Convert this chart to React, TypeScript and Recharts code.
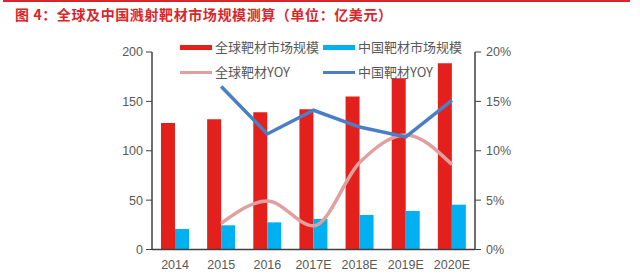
import React from 'react';
import { ComposedChart, Bar, Line, XAxis, YAxis } from 'recharts';

const categories = ['2014', '2015', '2016', '2017E', '2018E', '2019E', '2020E'];
const globalMarket = [128, 132, 139, 142, 155, 173.5, 188.5];
const chinaMarket = [20.8, 24.5, 27.5, 31, 35, 39, 45.4];
const globalYoy: (number | null)[] = [null, 2.65, 4.9, 2.4, 8.8, 11.6, 8.6];
const chinaYoy: (number | null)[] = [null, 16.5, 11.7, 14.1, 12.4, 11.4, 15.1];
const leftTicks = [0, 50, 100, 150, 200];
const rightTicks = [0, 5, 10, 15, 20];

const seriesNames = ['全球靶材市场规模', '中国靶材市场规模', '全球靶材YOY', '中国靶材YOY'];
const title = '图 4：全球及中国溅射靶材市场规模测算（单位：亿美元）';

const RED = '#e3201c';
const CYAN = '#00b0f0';
const PINK = '#e0a0a0';
const BLUE = '#4a7ec6';
const AXIS = '#404040';
const TICK = '#595959';
const FONT = '"Liberation Sans", Arial, "Noto Sans CJK SC", sans-serif';

const data = categories.map((c, i) => ({
  name: c,
  g: globalMarket[i],
  c: chinaMarket[i],
  gy: globalYoy[i],
  cy: chinaYoy[i],
}));

const legendItems = [
  { label: seriesNames[0], color: RED, kind: 'bar', x: 180, y: 47 },
  { label: seriesNames[1], color: CYAN, kind: 'bar', x: 323, y: 47 },
  { label: seriesNames[2], color: PINK, kind: 'line', x: 180, y: 72 },
  { label: seriesNames[3], color: BLUE, kind: 'line', x: 323, y: 72 },
];

export default function App() {
  return (
    <div style={{ position: 'absolute', left: 0, top: 0, width: 640, height: 275, background: '#fff', fontFamily: FONT }}>
      <div style={{ position: 'absolute', left: 3, top: 0, width: 627, height: 2, background: '#d9262c' }} />
      <div
        style={{
          position: 'absolute',
          left: 15,
          top: 4,
          fontSize: 14,
          fontWeight: 'bold',
          letterSpacing: 0.6,
          color: '#d9262c',
          fontFamily: '"Noto Sans CJK SC", sans-serif',
          whiteSpace: 'nowrap',
          lineHeight: '20px',
        }}
      >
        {title}
      </div>
      <ComposedChart
        width={640}
        height={275}
        data={data}
        margin={{ top: 52, right: 0, bottom: 0, left: 0 }}
        barGap={0}
        style={{ position: 'absolute', left: 0, top: 0 }}
      >
        <XAxis
          dataKey="name"
          axisLine={{ stroke: AXIS, strokeWidth: 1.5 }}
          tickLine={false}
          tickSize={6}
          tickMargin={5}
          height={25.5}
          tick={{ fill: TICK, fontSize: 12.5, fontFamily: FONT }}
          interval={0}
        />
        <YAxis
          yAxisId="left"
          orientation="left"
          width={152}
          domain={[0, 200]}
          ticks={leftTicks}
          axisLine={{ stroke: AXIS, strokeWidth: 1.5 }}
          tickLine={{ stroke: AXIS }}
          tickSize={6}
          tickMargin={3}
          tick={{ fill: TICK, fontSize: 12.5, fontFamily: FONT }}
        />
        <YAxis
          yAxisId="right"
          orientation="right"
          width={165}
          domain={[0, 20]}
          ticks={rightTicks}
          tickFormatter={(v: number) => `${v}%`}
          axisLine={{ stroke: AXIS, strokeWidth: 1.5 }}
          tickLine={{ stroke: AXIS }}
          tickSize={6}
          tickMargin={5}
          tick={{ fill: TICK, fontSize: 12.5, fontFamily: FONT }}
        />
        <Bar yAxisId="left" dataKey="g" name={seriesNames[0]} fill={RED} barSize={14} isAnimationActive={false} />
        <Bar yAxisId="left" dataKey="c" name={seriesNames[1]} fill={CYAN} barSize={14} isAnimationActive={false} />
        <Line
          yAxisId="right"
          dataKey="gy"
          name={seriesNames[2]}
          type="monotone"
          stroke={PINK}
          strokeWidth={3.5}
          dot={false}
          connectNulls={false}
          isAnimationActive={false}
        />
        <Line
          yAxisId="right"
          dataKey="cy"
          name={seriesNames[3]}
          type="linear"
          stroke={BLUE}
          strokeWidth={3.5}
          dot={false}
          isAnimationActive={false}
        />
      </ComposedChart>
      {legendItems.map((it) => (
        <div key={it.label}>
          <div
            style={{
              position: 'absolute',
              left: it.x,
              top: it.kind === 'bar' ? it.y - 2.5 : it.y - 1.5,
              width: 32,
              height: it.kind === 'bar' ? 5 : 3,
              background: it.color,
            }}
          />
          <div
            style={{
              position: 'absolute',
              left: it.x + 35,
              top: it.y - 9,
              fontSize: 13,
              lineHeight: '18px',
              color: TICK,
              whiteSpace: 'nowrap',
              fontFamily: '"Noto Sans CJK SC", "Liberation Sans", sans-serif',
            }}
          >
            {it.label}
          </div>
        </div>
      ))}
    </div>
  );
}
